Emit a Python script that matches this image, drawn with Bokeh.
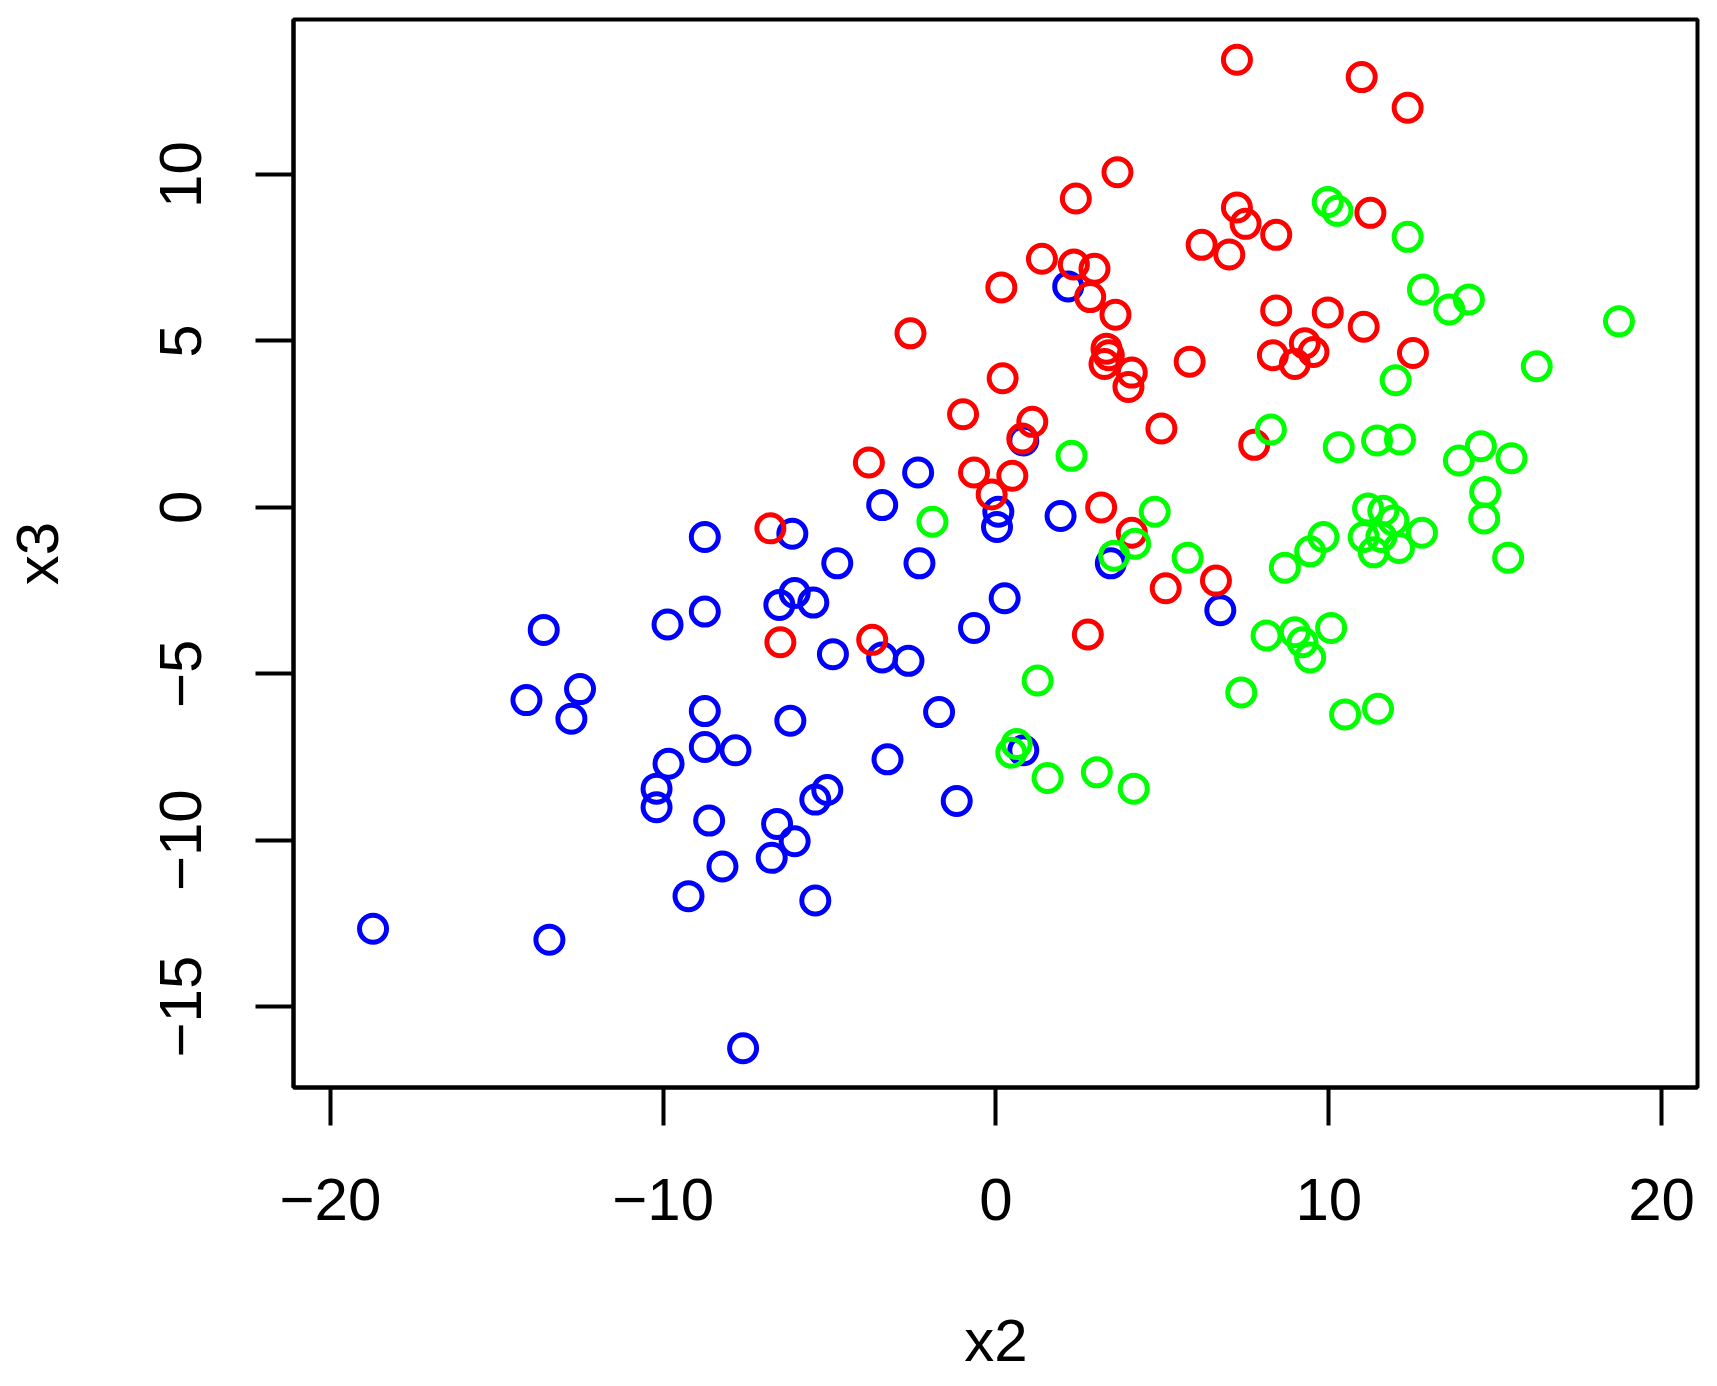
from bokeh.plotting import figure
from bokeh.models import FixedTicker, Range1d, LinearAxis
from bokeh.embed import file_html
from bokeh.resources import INLINE

# ---- data ----
blue_x2 = [-18.72, -13.42, -7.60, -14.11, -13.59, -12.76, -12.50, -10.20, -10.20, -9.84,
           -9.87, -8.75, -8.75, -8.75, -8.75, -7.83, -8.62, -9.24, -8.22, -6.74,
           -6.58, -6.05, -5.43, -5.43, -5.07, -6.18, -6.51, -6.05, -5.49, -6.12,
           -4.77, -4.90, -3.42, -2.63, -3.26, -1.71, -1.18, -3.42, -2.34, -2.30,
           -0.66, 0.26, 0.07, 0.03, 0.82, 1.94, 2.17, 3.45, 6.74, 0.82]
blue_x3 = [-12.66, -12.99, -16.25, -5.79, -3.68, -6.35, -5.46, -8.45, -9.01, -7.70,
           -3.52, -0.89, -3.13, -6.12, -7.20, -7.30, -9.41, -11.68, -10.79, -10.53,
           -9.51, -10.03, -11.81, -8.78, -8.49, -6.41, -2.93, -2.57, -2.86, -0.79,
           -1.68, -4.41, -4.51, -4.61, -7.57, -6.15, -8.82, 0.07, 1.05, -1.68,
           -3.62, -2.73, -0.13, -0.59, 2.01, -0.26, 6.64, -1.68, -3.09, -7.30]

red_x2 = [7.24, 10.99, 12.37, 3.65, 2.40, 7.24, 7.50, 11.25, 8.42, 6.18,
          7.01, 1.38, 2.34, 2.96, 2.83, 0.16, 3.59, 8.42, 9.97, 11.05,
          -2.57, 3.32, 3.39, 3.26, 4.08, 3.98, 5.82, 8.32, 9.28, 8.98,
          9.54, 12.53, 0.20, -0.99, 1.09, 0.79, 4.97, 7.76, -3.82, -0.66,
          0.49, -0.13, 3.16, 4.08, -6.78, 6.61, 5.10, -6.48, -3.72, 2.76]
red_x3 = [13.45, 12.93, 12.01, 10.07, 9.28, 9.01, 8.52, 8.85, 8.19, 7.89,
          7.60, 7.47, 7.30, 7.17, 6.32, 6.61, 5.79, 5.92, 5.86, 5.43,
          5.23, 4.77, 4.57, 4.31, 4.05, 3.62, 4.38, 4.57, 4.93, 4.31,
          4.67, 4.64, 3.88, 2.80, 2.57, 2.07, 2.37, 1.88, 1.35, 1.05,
          0.95, 0.39, 0.00, -0.76, -0.63, -2.20, -2.43, -4.05, -3.98, -3.82]

green_x2 = [9.97, 10.26, 12.37, 12.83, 13.62, 14.21, 18.72, 16.25, 12.01, 8.26,
            11.45, 12.14, 10.30, 14.57, 13.91, 15.49, 2.27, 14.70, 14.67, 11.18,
            11.64, 11.94, 4.77, -1.91, 11.05, 11.58, 12.80, 9.84, 11.35, 12.11,
            9.44, 15.39, 5.76, 4.18, 3.55, 8.68, 8.13, 8.98, 9.21, 9.44,
            10.07, 7.37, 1.25, 10.49, 11.48, 0.62, 0.46, 1.55, 3.03, 4.14]
green_x3 = [9.18, 8.91, 8.13, 6.55, 5.95, 6.25, 5.59, 4.24, 3.82, 2.34,
            2.01, 2.04, 1.81, 1.84, 1.41, 1.48, 1.55, 0.46, -0.33, -0.03,
            -0.10, -0.39, -0.13, -0.43, -0.89, -0.89, -0.76, -0.89, -1.35, -1.22,
            -1.32, -1.51, -1.51, -1.09, -1.45, -1.81, -3.85, -3.75, -4.05, -4.51,
            -3.62, -5.56, -5.20, -6.22, -6.05, -7.11, -7.37, -8.13, -7.96, -8.45]

x_ticks = [-20, -10, 0, 10, 20]
y_ticks = [-15, -10, -5, 0, 5, 10]
x_title = "x2"
y_title = "x3"

FONT = "Liberation Sans"
FS = "60px"

p = figure(width=1709, height=1378, output_backend="svg", toolbar_location=None,
           x_range=Range1d(-21.11, 21.08), y_range=Range1d(-17.43, 14.66),
           min_border_left=293, min_border_right=12, min_border_top=19,
           min_border_bottom=291)
p.grid.visible = False
p.background_fill_color = "white"
p.border_fill_color = "white"
p.outline_line_color = "black"
p.outline_line_width = 4

for xs, ys, col in [(blue_x2, blue_x3, "#0000FF"),
                    (red_x2, red_x3, "#FF0000"),
                    (green_x2, green_x3, "#00FF00")]:
    p.scatter(xs, ys, marker="circle", size=27, fill_color=None,
              line_color=col, line_width=5)

p.xaxis.ticker = FixedTicker(ticks=x_ticks)
p.yaxis.ticker = FixedTicker(ticks=y_ticks)
p.xaxis.major_label_overrides = {t: str(t).replace("-", "\u2212") for t in x_ticks}
p.yaxis.major_label_overrides = {t: str(t).replace("-", "\u2212") for t in y_ticks}
p.yaxis.major_label_orientation = "vertical"

for ax in (p.xaxis, p.yaxis):
    ax.axis_line_color = "black"
    ax.axis_line_width = 4
    ax.major_tick_in = 0
    ax.major_tick_out = 38
    ax.major_tick_line_width = 4
    ax.major_tick_line_color = "black"
    ax.minor_tick_line_color = None
    ax.major_label_text_font = FONT
    ax.major_label_text_font_size = FS
    ax.major_label_text_color = "black"
    ax.axis_label_text_font = FONT
    ax.axis_label_text_font_size = FS
    ax.axis_label_text_font_style = "normal"
    ax.axis_label_text_color = "black"

p.yaxis.axis_label = y_title
p.xaxis.major_label_standoff = 53
p.yaxis.major_label_standoff = 54
p.yaxis.axis_label_standoff = 87

# x-axis title: a second, line-less axis below whose single label is the title
title_axis = LinearAxis(ticker=FixedTicker(ticks=[0]),
                        major_label_overrides={0: x_title},
                        axis_line_color=None, major_tick_line_color=None,
                        minor_tick_line_color=None, major_tick_in=0,
                        major_tick_out=0, major_label_standoff=84,
                        major_label_text_font=FONT,
                        major_label_text_font_size=FS,
                        major_label_text_color="black")
p.add_layout(title_axis, "below")

open("out.html", "w").write(file_html(p, INLINE))
